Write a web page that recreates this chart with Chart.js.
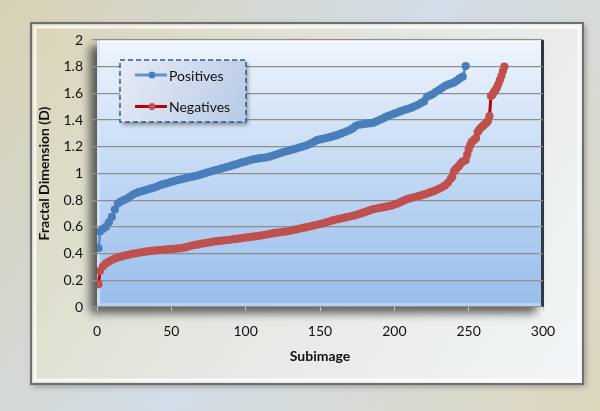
<!DOCTYPE html>
<html>
<head>
<meta charset="utf-8">
<script src="https://cdn.jsdelivr.net/npm/chart.js@4.4.1/dist/chart.umd.min.js"></script>
<style>
    html, body { margin: 0; padding: 0; }
    body { width: 600px; height: 411px; overflow: hidden; }
</style>
</head>
<body>
<canvas id="fractalChart" width="600" height="411"></canvas>
<script>
// Values (sorted fractal dimension per subimage)
const posSubimage = [
    1, 2, 4, 6, 8, 10, 12, 14, 16, 18,
    20, 22, 24, 26, 28, 30, 32, 34, 36, 38,
    40, 42, 44, 46, 48, 50, 52, 54, 56, 58,
    60, 62, 64, 66, 68, 70, 72, 74, 76, 78,
    80, 82, 84, 86, 88, 90, 92, 94, 96, 98,
    100, 102, 104, 106, 108, 110, 112, 114, 116, 118,
    120, 122, 124, 126, 128, 130, 132, 134, 136, 138,
    140, 142, 144, 146, 148, 150, 152, 154, 156, 158,
    160, 162, 164, 166, 168, 170, 172, 174, 176, 178,
    180, 182, 184, 186, 188, 190, 192, 194, 196, 198,
    200, 202, 204, 206, 208, 210, 212, 214, 216, 218,
    220, 222, 224, 226, 228, 230, 232, 234, 236, 238,
    240, 242, 244, 246, 248
];
const posDimension = [
    0.44, 0.565, 0.585, 0.60, 0.635, 0.675, 0.73, 0.775, 0.79, 0.80,
    0.81, 0.825, 0.84, 0.852, 0.86, 0.867, 0.873, 0.88, 0.886, 0.893,
    0.90, 0.91, 0.918, 0.924, 0.93, 0.937, 0.943, 0.95, 0.955, 0.96,
    0.966, 0.971, 0.976, 0.981, 0.987, 0.993, 1.0, 1.007, 1.013, 1.02,
    1.026, 1.032, 1.039, 1.045, 1.05, 1.057, 1.064, 1.07, 1.078, 1.085,
    1.09, 1.097, 1.103, 1.108, 1.112, 1.115, 1.118, 1.121, 1.126, 1.133,
    1.14, 1.148, 1.155, 1.162, 1.168, 1.175, 1.181, 1.187, 1.194, 1.2,
    1.207, 1.215, 1.225, 1.238, 1.25, 1.255, 1.26, 1.265, 1.27, 1.276,
    1.283, 1.29, 1.298, 1.307, 1.316, 1.326, 1.338, 1.355, 1.365, 1.368,
    1.371, 1.374, 1.377, 1.381, 1.39, 1.40, 1.41, 1.422, 1.432, 1.44,
    1.448, 1.456, 1.465, 1.473, 1.48, 1.487, 1.495, 1.505, 1.515, 1.528,
    1.54, 1.575, 1.585, 1.595, 1.612, 1.625, 1.64, 1.655, 1.665, 1.673,
    1.68, 1.695, 1.712, 1.725, 1.805
];

const negSubimage = [
    1, 2, 4, 6, 8, 10, 12, 14, 16, 18,
    20, 22, 24, 26, 28, 30, 32, 34, 36, 38,
    40, 42, 44, 46, 48, 50, 52, 54, 56, 58,
    60, 62, 64, 66, 68, 70, 72, 74, 76, 78,
    80, 82, 84, 86, 88, 90, 92, 94, 96, 98,
    100, 102, 104, 106, 108, 110, 112, 114, 116, 118,
    120, 122, 124, 126, 128, 130, 132, 134, 136, 138,
    140, 142, 144, 146, 148, 150, 152, 154, 156, 158,
    160, 162, 164, 166, 168, 170, 172, 174, 176, 178,
    180, 182, 184, 186, 188, 190, 192, 194, 196, 198,
    200, 202, 204, 206, 208, 210, 212, 214, 216, 218,
    220, 222, 224, 226, 228, 230, 232, 234, 236, 238,
    239, 240, 241, 242, 243, 244, 245, 246, 247, 248,
    249, 250, 251, 252, 253, 254, 255, 256, 257, 258,
    259, 260, 261, 262, 263, 264, 265, 266, 267, 268,
    269, 270, 271, 272, 273, 274
];
const negDimension = [
    0.17, 0.27, 0.305, 0.325, 0.34, 0.352, 0.362, 0.37, 0.377, 0.383,
    0.388, 0.393, 0.398, 0.402, 0.406, 0.41, 0.413, 0.416, 0.419, 0.422,
    0.424, 0.426, 0.428, 0.43, 0.432, 0.434, 0.436, 0.438, 0.44, 0.443,
    0.448, 0.455, 0.46, 0.465, 0.469, 0.473, 0.477, 0.481, 0.485, 0.489,
    0.492, 0.495, 0.497, 0.5, 0.502, 0.505, 0.508, 0.511, 0.514, 0.517,
    0.52, 0.523, 0.526, 0.529, 0.532, 0.535, 0.539, 0.543, 0.547, 0.551,
    0.555, 0.558, 0.561, 0.564, 0.567, 0.571, 0.576, 0.581, 0.586, 0.591,
    0.596, 0.601, 0.606, 0.611, 0.616, 0.621, 0.626, 0.633, 0.64, 0.647,
    0.653, 0.658, 0.663, 0.668, 0.673, 0.678, 0.683, 0.688, 0.695, 0.703,
    0.71, 0.718, 0.726, 0.733, 0.738, 0.742, 0.746, 0.75, 0.755, 0.76,
    0.767, 0.775, 0.785, 0.795, 0.805, 0.812, 0.818, 0.824, 0.83, 0.836,
    0.843, 0.85, 0.858, 0.866, 0.875, 0.885, 0.897, 0.91, 0.93, 0.96,
    0.975, 1.015, 1.03, 1.04, 1.05, 1.065, 1.08, 1.09, 1.095, 1.10,
    1.14, 1.18, 1.21, 1.235, 1.245, 1.255, 1.265, 1.31, 1.325, 1.34,
    1.35, 1.36, 1.37, 1.38, 1.395, 1.43, 1.58, 1.59, 1.61, 1.625,
    1.645, 1.67, 1.70, 1.73, 1.765, 1.80
];

const xTicks = [0, 50, 100, 150, 200, 250, 300];
const yTicks = [0, 0.2, 0.4, 0.6, 0.8, 1, 1.2, 1.4, 1.6, 1.8, 2];

const seriesNames = ['Positives', 'Negatives'];
const lineColors = ['#5a94d6', '#c00000'];
const markerColors = ['#4a7ebb', '#c0504d'];

Chart.defaults.font.family = 'Lato, "Open Sans", sans-serif';
Chart.defaults.color = '#111111';

// Background, framed panel and bevelled plot area
const framePlugin = {
    id: 'frame',
    beforeDraw(chart) {
        const ctx = chart.ctx;
        const a = chart.chartArea;
        const w = chart.width, h = chart.height;
        ctx.save();
        let g = ctx.createLinearGradient(0, 0, w, h);
        g.addColorStop(0, '#d8d1b4');
        g.addColorStop(0.5, '#d2dde8');
        g.addColorStop(1, '#ddd6bd');
        ctx.fillStyle = g;
        ctx.fillRect(0, 0, w, h);

        // outer frame
        ctx.shadowColor = 'rgba(0,0,0,0.35)';
        ctx.shadowBlur = 6;
        ctx.shadowOffsetX = 2;
        ctx.shadowOffsetY = 2;
        g = ctx.createLinearGradient(31, 23, 583, 384);
        g.addColorStop(0, '#dad4b8');
        g.addColorStop(0.45, '#e4e7e0');
        g.addColorStop(1, '#f1f5f8');
        ctx.fillStyle = g;
        ctx.fillRect(31, 23, 552, 361);
        ctx.shadowColor = 'transparent';
        ctx.strokeStyle = 'rgba(255,255,255,0.75)';
        ctx.lineWidth = 3;
        ctx.strokeRect(35, 27, 544, 353);
        ctx.strokeStyle = '#6f6f6f';
        ctx.lineWidth = 2;
        ctx.strokeRect(31, 23, 552, 361);

        // plot area with drop shadow
        ctx.shadowColor = 'rgba(40,40,40,0.75)';
        ctx.shadowBlur = 9;
        ctx.shadowOffsetX = -7;
        ctx.shadowOffsetY = 6;
        g = ctx.createLinearGradient(0, a.top, 0, a.bottom);
        g.addColorStop(0, '#eef5fd');
        g.addColorStop(1, '#97bdeb');
        ctx.fillStyle = g;
        ctx.fillRect(a.left, a.top, a.width, a.height);
        ctx.shadowColor = 'transparent';

        // bevel edges
        ctx.fillStyle = 'rgba(255,255,255,0.9)';
        ctx.fillRect(a.left, a.top, a.width, 2);
        ctx.fillStyle = 'rgba(215,230,246,0.8)';
        ctx.fillRect(a.left, a.top, 3, a.height);
        ctx.fillStyle = 'rgba(190,212,238,0.9)';
        ctx.fillRect(a.left, a.bottom - 4, a.width, 4);
        ctx.fillStyle = '#2f3945';
        ctx.fillRect(a.right - 2, a.top, 3, a.height);
        ctx.restore();
    }
};

// Legend in a dashed box
const boxLegendPlugin = {
    id: 'boxLegend',
    afterDraw(chart) {
        const ctx = chart.ctx;
        const a = chart.chartArea;
        const x = a.left + 23, y = a.top + 20, w = 126, h = 62;
        ctx.save();
        ctx.shadowColor = 'rgba(0,0,0,0.35)';
        ctx.shadowBlur = 4;
        ctx.shadowOffsetX = 2;
        ctx.shadowOffsetY = 3;
        const g = ctx.createLinearGradient(x, y, x + w, y + h);
        g.addColorStop(0, '#e6ecf6');
        g.addColorStop(1, '#b8cae6');
        ctx.fillStyle = g;
        ctx.fillRect(x, y, w, h);
        ctx.shadowColor = 'transparent';
        ctx.setLineDash([5, 3]);
        ctx.strokeStyle = '#2f5a8e';
        ctx.lineWidth = 1.5;
        ctx.strokeRect(x, y, w, h);
        ctx.setLineDash([]);

        seriesNames.forEach(function(name, i) {
            const ly = y + 15 + i * 31.5;
            ctx.strokeStyle = lineColors[i];
            ctx.lineWidth = 3;
            ctx.beginPath();
            ctx.moveTo(x + 15, ly);
            ctx.lineTo(x + 47, ly);
            ctx.stroke();
            ctx.fillStyle = markerColors[i];
            ctx.beginPath();
            ctx.arc(x + 32, ly, 3.5, 0, Math.PI * 2);
            ctx.fill();
            ctx.fillStyle = '#111111';
            ctx.font = '14px Lato, "Open Sans", sans-serif';
            ctx.textBaseline = 'middle';
            ctx.fillText(name, x + 49, ly + 1);
        });
        ctx.restore();
    }
};

const toPoints = (xs, ys) => xs.map((v, i) => ({ x: v, y: ys[i] }));

new Chart(document.getElementById('fractalChart'), {
    type: 'scatter',
    data: {
        datasets: [{
            label: seriesNames[0],
            data: toPoints(posSubimage, posDimension),
            showLine: true,
            borderColor: lineColors[0],
            borderWidth: 3,
            pointBackgroundColor: markerColors[0],
            pointBorderColor: markerColors[0],
            pointBorderWidth: 0,
            pointRadius: 4.1
        }, {
            label: seriesNames[1],
            data: toPoints(negSubimage, negDimension),
            showLine: true,
            borderColor: lineColors[1],
            borderWidth: 3,
            pointBackgroundColor: markerColors[1],
            pointBorderColor: markerColors[1],
            pointBorderWidth: 0,
            pointRadius: 4.1
        }]
    },
    options: {
        responsive: false,
        animation: false,
        layout: {
            padding: { left: 30, right: 57, top: 40, bottom: 40 }
        },
        plugins: {
            legend: { display: false },
            tooltip: { enabled: false }
        },
        scales: {
            x: {
                type: 'linear',
                min: 0,
                max: 300,
                afterBuildTicks: function(scale) {
                    scale.ticks = xTicks.map(v => ({ value: v }));
                },
                afterFit: function(scale) {
                    scale.height = 64;
                },
                grid: {
                    drawOnChartArea: false,
                    tickLength: 4,
                    color: '#c3ccd6'
                },
                border: { display: false },
                ticks: {
                    padding: 12,
                    font: { size: 14 },
                    maxRotation: 0
                },
                title: {
                    display: true,
                    text: 'Subimage',
                    font: { size: 14, weight: 'bold' },
                    padding: { top: 0, bottom: 6 }
                }
            },
            y: {
                min: 0,
                max: 2,
                afterBuildTicks: function(scale) {
                    scale.ticks = yTicks.map(v => ({ value: v }));
                },
                afterFit: function(scale) {
                    scale.width = 67;
                },
                grid: {
                    color: '#8e8e8e',
                    lineWidth: 1.3,
                    tickLength: 5
                },
                border: { display: false },
                ticks: {
                    padding: 9,
                    font: { size: 14 },
                    callback: function(v) {
                        return String(Number(v.toFixed(1)));
                    }
                },
                title: {
                    display: true,
                    text: 'Fractal Dimension (D)',
                    font: { size: 14, weight: 'bold' },
                    padding: { top: 6, bottom: 0 }
                }
            }
        }
    },
    plugins: [framePlugin, boxLegendPlugin]
});
</script>
</body>
</html>
